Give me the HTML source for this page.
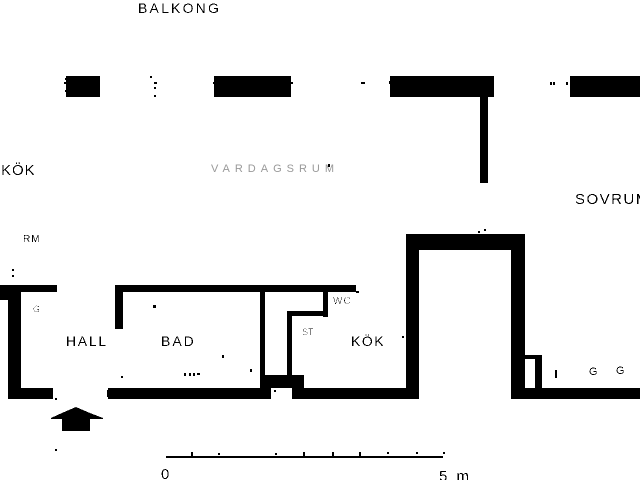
<!DOCTYPE html>
<html><head><meta charset="utf-8"><title>Plan</title>
<style>html,body{margin:0;padding:0;background:#fff;width:640px;height:480px;overflow:hidden}svg{display:block}
text{font-family:"Liberation Sans",sans-serif;fill:#000}
.w rect,.d rect,.w polygon{fill:#000;shape-rendering:crispEdges}
.a{filter:url(#t1)}.b{filter:url(#t2)}</style></head><body>
<svg width="640" height="480" viewBox="0 0 640 480" xmlns="http://www.w3.org/2000/svg">
<defs>
<filter id="t1" x="-5%" y="-20%" width="110%" height="140%" color-interpolation-filters="sRGB"><feComponentTransfer><feFuncA type="discrete" tableValues="0 0 0 0 0 0 1 1 1 1"/></feComponentTransfer></filter>
<filter id="t2" x="-5%" y="-20%" width="110%" height="140%" color-interpolation-filters="sRGB"><feComponentTransfer><feFuncA type="discrete" tableValues="0 0 0 0 0 0 0 0 0 1"/></feComponentTransfer></filter>
</defs>
<g class="w">
<rect x="66" y="76" width="34" height="21"/><rect x="214" y="76" width="77" height="21"/><rect x="390" y="76" width="104" height="21"/><rect x="570" y="76" width="70" height="21"/>
<rect x="480" y="97" width="8" height="86"/>
<rect x="406" y="234" width="119" height="16"/><rect x="406" y="234" width="13" height="165"/><rect x="511" y="234" width="14" height="165"/>
<rect x="0" y="285" width="57" height="7"/><rect x="0" y="292" width="8" height="8"/><rect x="8" y="292" width="13" height="107"/><rect x="8" y="388" width="45" height="11"/>
<rect x="115" y="285" width="241" height="7"/><rect x="115" y="292" width="8" height="37"/><rect x="356" y="291" width="3" height="2"/>
<rect x="108" y="388" width="163" height="11"/><rect x="260" y="292" width="5" height="96"/>
<rect x="323" y="292" width="5" height="25"/><rect x="287" y="311" width="40" height="5"/><rect x="287" y="311" width="5" height="65"/>
<rect x="265" y="375" width="39" height="13"/><rect x="292" y="388" width="114" height="11"/>
<rect x="525" y="355" width="17" height="4"/><rect x="535" y="355" width="7" height="33"/><rect x="511" y="388" width="129" height="11"/>
<polygon points="76,407 90,413 103,418 103,419 90,419 90,431 62,431 62,419 51,419 51,418 62,413"/>
<rect x="166" y="456" width="277" height="2"/>
<rect x="191" y="452" width="2" height="4"/><rect x="218" y="453" width="2" height="2"/><rect x="275" y="453" width="2" height="2"/><rect x="303" y="452" width="2" height="4"/><rect x="332" y="452" width="2" height="4"/><rect x="359" y="452" width="2" height="4"/><rect x="387" y="452" width="2" height="2"/><rect x="416" y="452" width="2" height="2"/><rect x="443" y="452" width="2" height="2"/>
</g>
<g class="d">
<rect x="65" y="78" width="2" height="2"/><rect x="64" y="82" width="2" height="2"/><rect x="65" y="90" width="2" height="2"/><rect x="213" y="82" width="1" height="2"/><rect x="291" y="82" width="2" height="2"/>
<rect x="150" y="76" width="2" height="2"/><rect x="154" y="82" width="3" height="2"/><rect x="154" y="87" width="2" height="2"/><rect x="154" y="95" width="2" height="2"/>
<rect x="361" y="82" width="4" height="2"/><rect x="389" y="81" width="2" height="3"/><rect x="550" y="82" width="2" height="3"/><rect x="553" y="82" width="2" height="3"/><rect x="566" y="82" width="2" height="3"/>
<rect x="328" y="164" width="2" height="3"/><rect x="484" y="229" width="2" height="2"/><rect x="478" y="231" width="2" height="2"/>
<rect x="12" y="269" width="2" height="2"/><rect x="12" y="275" width="2" height="2"/>
<rect x="153" y="305" width="3" height="3"/><rect x="222" y="355" width="2" height="3"/><rect x="250" y="369" width="2" height="3"/><rect x="121" y="376" width="2" height="2"/>
<rect x="55" y="398" width="2" height="2"/><rect x="55" y="449" width="2" height="2"/><rect x="274" y="390" width="2" height="2"/>
<rect x="107" y="390" width="2" height="7"/><rect x="402" y="336" width="2" height="2"/>
<rect x="184" y="373" width="2" height="3"/><rect x="189" y="373" width="2" height="3"/><rect x="193" y="373" width="2" height="3"/><rect x="197" y="373" width="3" height="2"/>
<rect x="555" y="370" width="2" height="8"/>
</g>
<text class="a" x="138" y="13" font-size="14" style="letter-spacing:2.2px">BALKONG</text>
<text class="a" x="1" y="175" font-size="15" style="letter-spacing:1px">KÖK</text>
<text x="211" y="172" font-size="11" style="letter-spacing:5px;fill:#999">VARDAGSRUM</text>
<text class="a" x="575" y="204" font-size="15" style="letter-spacing:1.5px">SOVRUM</text>
<text class="a" x="23" y="242" font-size="10" style="letter-spacing:1px">RM</text>
<text class="a" x="66" y="346" font-size="14" style="letter-spacing:1.7px">HALL</text>
<text class="a" x="161" y="346" font-size="14" style="letter-spacing:2px">BAD</text>
<text class="a" x="351" y="346" font-size="14" style="letter-spacing:1.5px">KÖK</text>
<text class="b" x="333" y="304" font-size="10" style="letter-spacing:1px">WC</text>
<text class="b" x="33" y="312" font-size="9">G</text>
<text class="b" x="302" y="335" font-size="9">ST</text>
<text class="a" x="589" y="375" font-size="11">G</text>
<text class="a" x="616" y="374" font-size="11">G</text>
<text class="a" x="161" y="479" font-size="15">0</text>
<text class="a" x="439" y="481" font-size="15" style="letter-spacing:2.5px">5 m</text>
</svg>
</body></html>
